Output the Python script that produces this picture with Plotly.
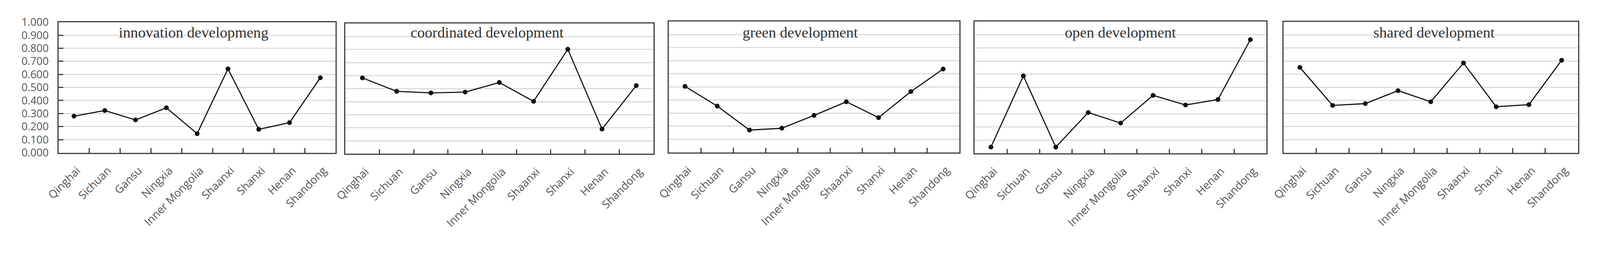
import plotly.graph_objects as go

provinces = ["Qinghai", "Sichuan", "Gansu", "Ningxia", "Inner Mongolia",
             "Shaanxi", "Shanxi", "Henan", "Shandong"]

innovation = [0.280, 0.323, 0.251, 0.344, 0.146, 0.642, 0.179, 0.230, 0.574]
coordinated = [0.583, 0.480, 0.468, 0.474, 0.548, 0.403, 0.803, 0.190, 0.524]
green = [0.504, 0.353, 0.170, 0.184, 0.282, 0.386, 0.265, 0.464, 0.636]
open_dev = [0.048, 0.587, 0.048, 0.310, 0.230, 0.440, 0.367, 0.408, 0.862]
shared = [0.651, 0.361, 0.375, 0.474, 0.389, 0.685, 0.351, 0.367, 0.706]

titles = ["innovation developmeng", "coordinated development", "green development",
          "open development", "shared development"]
series = [innovation, coordinated, green, open_dev, shared]

W, H = 4334, 665
# panel boxes in reference pixels: left, right, top, bottom
boxes = [(159, 911, 60, 414), (937, 1773, 64, 417), (1815, 2603, 58, 413),
         (2645, 3437, 58, 416), (3483, 4282, 59, 414)]
title_cx = [525, 1322, 2171, 3041, 3891]
title_cy = 88

# the page is shown with a slight zoom and the default body margin
Z, M = 1.06, 8


def px(v):
    return v / Z - M


def sz(v):
    return v / Z


fig = go.Figure()
line_col = "#404040"
for i, (vals, box) in enumerate(zip(series, boxes)):
    n = i + 1
    xa = "x" if n == 1 else f"x{n}"
    ya = "y" if n == 1 else f"y{n}"
    fig.add_trace(go.Scatter(
        x=provinces, y=vals, mode="lines+markers", xaxis=xa, yaxis=ya,
        line=dict(color="#111111", width=sz(3)),
        marker=dict(color="#111111", size=sz(13)),
        showlegend=False, hoverinfo="skip"))
    l, r, t, b = box
    xdom = [px(l) / W, px(r) / W]
    ydom = [(H - px(b)) / H, (H - px(t)) / H]
    xkey = "xaxis" if n == 1 else f"xaxis{n}"
    ykey = "yaxis" if n == 1 else f"yaxis{n}"
    fig.update_layout(**{
        xkey: dict(domain=xdom, anchor=ya, type="category",
                   categoryorder="array", categoryarray=provinces,
                   tickson="boundaries", ticks="inside", ticklen=sz(12),
                   tickwidth=sz(3), tickcolor=line_col, showline=True,
                   linecolor=line_col, linewidth=sz(3), mirror=True,
                   showgrid=False, tickangle=-45, ticklabelstandoff=15,
                   ticklabelshift=8, automargin=False,
                   tickfont=dict(family="Open Sans", size=sz(30), color="#555555"),
                   range=[-0.5, 8.5], fixedrange=True),
        ykey: dict(domain=ydom, anchor=xa, range=[0, 1], dtick=0.1,
                   tickformat=".3f", showgrid=True, gridcolor="#dcdcdc",
                   gridwidth=sz(3), zeroline=False, showline=True,
                   linecolor=line_col, linewidth=sz(3), mirror=True,
                   ticks="inside" if n == 1 else "", ticklen=sz(13),
                   tickwidth=sz(3), tickcolor=line_col, automargin=False,
                   showticklabels=(n == 1), ticklabelstandoff=17,
                   tickfont=dict(family="Open Sans", size=sz(29), color="#555555"),
                   fixedrange=True),
    })
    fig.add_annotation(text=titles[i], xref="paper", yref="paper",
                       x=px(title_cx[i]) / W, y=(H - px(title_cy)) / H,
                       xanchor="center", yanchor="middle", showarrow=False,
                       font=dict(family="Liberation Serif", size=sz(41),
                                 color="#333333"))

fig.update_layout(width=W, height=H, margin=dict(l=0, r=0, t=0, b=0),
                  paper_bgcolor="white", plot_bgcolor="white",
                  showlegend=False)
fig.write_html("out.html")
